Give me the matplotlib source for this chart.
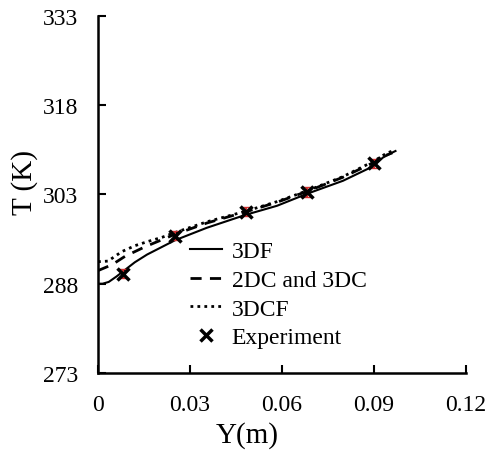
import matplotlib.pyplot as plt

plt.rcParams["font.family"] = ["Liberation Serif", "DejaVu Serif"]

# 3DF (solid)
y_3df = [0.0, 0.0015, 0.0035, 0.0060, 0.0085, 0.0120, 0.0160, 0.0251, 0.0355, 0.0483, 0.0584, 0.0681, 0.0799, 0.0900, 0.0929, 0.0962, 0.0970]
t_3df = [288.0, 288.0, 288.3, 289.2, 290.2, 291.6, 292.9, 295.3, 297.4, 299.6, 301.1, 303.1, 305.3, 307.8, 309.2, 310.1, 310.3]

# 2DC and 3DC (dashed)
y_2dc = [0.0, 0.0046, 0.0088, 0.0153, 0.0251, 0.0355, 0.0483, 0.0584, 0.0681, 0.0799, 0.0900, 0.0940, 0.0960]
t_2dc = [290.2, 291.2, 292.6, 294.2, 296.3, 298.2, 300.1, 301.7, 303.5, 305.9, 308.4, 309.6, 310.0]

# 3DCF (dotted)
y_3dcf = [0.0, 0.0033, 0.0055, 0.0078, 0.0121, 0.0163, 0.0209, 0.0251, 0.0355, 0.0483, 0.0584, 0.0681, 0.0799, 0.0900, 0.0940, 0.0965]
t_3dcf = [291.7, 291.8, 292.6, 293.4, 294.4, 295.1, 295.8, 296.6, 298.4, 300.2, 301.8, 303.6, 306.0, 308.6, 309.9, 310.4]

# Experiment
y_exp = [0.0082, 0.0251, 0.0483, 0.0681, 0.0900]
t_exp = [289.7, 296.1, 300.1, 303.4, 308.2]
t_err = [0.8, 0.8, 0.8, 0.8, 0.8]

x_ticks = [0, 0.03, 0.06, 0.09, 0.12]
x_labels = ["0", "0.03", "0.06", "0.09", "0.12"]
y_ticks = [273, 288, 303, 318, 333]

fig = plt.figure(figsize=(4.89, 4.52), dpi=100)
ax = fig.add_axes([0.2004, 0.1726, 0.7526, 0.79])

ax.plot(y_3df, t_3df, color="black", lw=1.5, ls="-", label="3DF")
ax.plot(y_2dc, t_2dc, color="black", lw=2.0, ls=(0, (4, 3)), label="2DC and 3DC")
ax.plot(y_3dcf, t_3dcf, color="black", lw=2.0, ls=(0, (1, 1.5)), label="3DCF")
ax.errorbar(y_exp, t_exp, yerr=t_err, fmt="none", ecolor="#d03030", elinewidth=1.5, capsize=3)
ax.plot(y_exp, t_exp, ls="none", marker="x", ms=8, mew=2.5, color="black", label="Experiment")

ax.set_xlim(0, 0.12)
ax.set_ylim(273, 333)
ax.set_xticks(x_ticks)
ax.set_xticklabels(x_labels)
ax.set_yticks(y_ticks)

ax.spines["top"].set_visible(False)
ax.spines["right"].set_visible(False)
ax.spines["left"].set_linewidth(1.8)
ax.spines["bottom"].set_linewidth(1.8)
ax.tick_params(direction="in", length=6, width=1.5, labelsize=17)
ax.tick_params(axis="x", pad=15)
ax.tick_params(axis="y", pad=14)

ax.set_xlabel("Y(m)", fontsize=21, labelpad=0)
ax.xaxis.set_label_coords(0.405, -0.135)
ax.set_ylabel("T (K)", fontsize=21, labelpad=2)
ax.yaxis.set_label_coords(-0.163, 0.535)

handles, labels = ax.get_legend_handles_labels()
ax.legend(handles, labels, loc="upper left", bbox_to_anchor=(0.25, 0.37), frameon=False,
          fontsize=17, handlelength=1.35, handletextpad=0.42, labelspacing=0.3, borderpad=0,
          borderaxespad=0)

fig.savefig("out.png", dpi=100)
